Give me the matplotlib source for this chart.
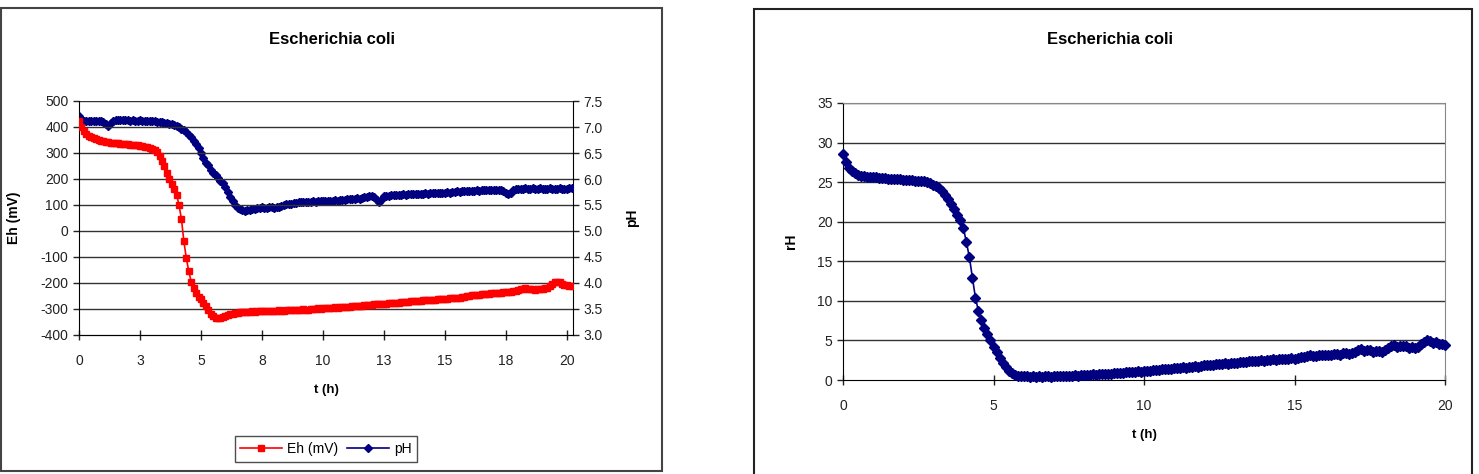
import numpy as np
import matplotlib
matplotlib.use("Agg")
import matplotlib.pyplot as plt
from matplotlib.patches import Rectangle

plt.rcParams['font.family'] = ['Liberation Sans', 'DejaVu Sans']
plt.rcParams['axes.unicode_minus'] = False

# time axis, one reading every 0.1 h
t_left = np.round(np.arange(0, 20.21, 0.1), 1)
t_right = np.round(np.arange(0, 20.01, 0.1), 1)

# Eh (mV), left chart
eh = [425, 400, 385, 372, 365, 360, 356, 352, 349, 347,
      345, 343, 342, 340, 339, 338, 337, 336, 335, 334,
      333, 332, 331, 330, 329, 327, 326, 324, 322, 320,
      317, 312, 303, 290, 270, 250, 225, 200, 180, 160,
      140, 100, 45, -40, -105, -155, -195, -220, -240, -252,
      -263, -275, -290, -305, -318, -328, -333, -335, -333, -330,
      -325, -322, -320, -318, -317, -315, -313, -312, -311, -311,
      -310, -309, -310, -308, -307, -309, -308, -307, -306, -308,
      -307, -306, -305, -307, -306, -305, -304, -305, -304, -303,
      -302, -302, -301, -303, -302, -300, -299, -300, -298, -299,
      -297, -297, -296, -297, -295, -294, -295, -293, -292, -293,
      -291, -291, -290, -289, -288, -288, -287, -286, -285, -284,
      -283, -282, -281, -281, -280, -279, -279, -278, -277, -277,
      -276, -275, -274, -274, -273, -272, -271, -271, -270, -269,
      -268, -267, -266, -266, -265, -264, -264, -263, -262, -262,
      -261, -260, -259, -259, -258, -257, -256, -254, -252, -250,
      -249, -248, -247, -246, -245, -244, -243, -242, -241, -240,
      -239, -238, -238, -237, -236, -236, -235, -234, -232, -230,
      -227, -222, -223, -221, -224, -222, -223, -225, -224, -222,
      -223, -221, -218, -212, -205, -198, -196, -198, -203, -207,
      -209, -211, -212]

# pH, left chart (right axis)
ph = [7.22, 7.15, 7.12, 7.12, 7.11, 7.12, 7.11, 7.11, 7.12, 7.11,
      7.10, 7.06, 7.02, 7.08, 7.12, 7.14, 7.14, 7.13, 7.14, 7.13,
      7.13, 7.12, 7.13, 7.12, 7.12, 7.13, 7.12, 7.12, 7.11, 7.12,
      7.11, 7.11, 7.10, 7.10, 7.09, 7.08, 7.07, 7.06, 7.05, 7.04,
      7.02, 7.00, 6.97, 6.94, 6.90, 6.85, 6.80, 6.74, 6.67, 6.59,
      6.50, 6.40, 6.31, 6.26, 6.18, 6.12, 6.08, 6.02, 5.96, 5.92,
      5.85, 5.75, 5.65, 5.57, 5.50, 5.45, 5.42, 5.40, 5.39, 5.40,
      5.41, 5.42, 5.43, 5.44, 5.45, 5.46, 5.44, 5.45, 5.46, 5.46,
      5.45, 5.46, 5.47, 5.48, 5.50, 5.51, 5.52, 5.52, 5.53, 5.54,
      5.55, 5.55, 5.56, 5.56, 5.55, 5.56, 5.57, 5.56, 5.57, 5.57,
      5.58, 5.57, 5.58, 5.58, 5.57, 5.59, 5.58, 5.59, 5.60, 5.60,
      5.61, 5.61, 5.62, 5.62, 5.63, 5.62, 5.64, 5.65, 5.66, 5.67,
      5.68, 5.65, 5.60, 5.55, 5.60, 5.67, 5.68, 5.68, 5.69, 5.69,
      5.70, 5.70, 5.70, 5.71, 5.70, 5.71, 5.71, 5.72, 5.71, 5.72,
      5.72, 5.72, 5.73, 5.72, 5.73, 5.73, 5.74, 5.73, 5.74, 5.74,
      5.74, 5.75, 5.74, 5.75, 5.75, 5.76, 5.75, 5.76, 5.76, 5.76,
      5.77, 5.77, 5.77, 5.78, 5.77, 5.78, 5.78, 5.79, 5.78, 5.79,
      5.79, 5.79, 5.79, 5.78, 5.76, 5.73, 5.72, 5.74, 5.78, 5.80,
      5.81, 5.81, 5.81, 5.82, 5.81, 5.81, 5.82, 5.81, 5.81, 5.82,
      5.81, 5.81, 5.81, 5.82, 5.81, 5.81, 5.81, 5.82, 5.81, 5.81,
      5.81, 5.82, 5.83]

# rH, right chart
rh = [28.6, 27.6, 26.8, 26.4, 26.1, 25.9, 25.8, 25.75, 25.7, 25.65,
      25.6, 25.6, 25.55, 25.5, 25.5, 25.45, 25.45, 25.4, 25.4, 25.35,
      25.3, 25.3, 25.3, 25.25, 25.2, 25.2, 25.15, 25.1, 25.0, 24.9,
      24.7, 24.5, 24.2, 23.9, 23.4, 22.9, 22.3, 21.6, 20.9, 20.2,
      19.2, 17.4, 15.5, 12.9, 10.4, 8.7, 7.6, 6.6, 5.8, 5.0,
      4.2, 3.5, 2.8, 2.2, 1.6, 1.2, 0.85, 0.65, 0.55, 0.5,
      0.45, 0.45, 0.4, 0.45, 0.4, 0.45, 0.4, 0.45, 0.45, 0.4,
      0.45, 0.45, 0.5, 0.5, 0.55, 0.5, 0.55, 0.6, 0.55, 0.6,
      0.6, 0.65, 0.6, 0.7, 0.65, 0.7, 0.75, 0.7, 0.8, 0.75,
      0.85, 0.85, 0.9, 0.85, 0.95, 1.0, 0.95, 1.05, 1.1, 1.05,
      1.15, 1.2, 1.15, 1.25, 1.3, 1.25, 1.35, 1.4, 1.35, 1.45,
      1.5, 1.5, 1.55, 1.6, 1.55, 1.65, 1.7, 1.75, 1.7, 1.8,
      1.85, 1.9, 1.85, 1.95, 2.0, 2.0, 2.05, 2.1, 2.05, 2.15,
      2.2, 2.2, 2.25, 2.3, 2.25, 2.35, 2.4, 2.35, 2.45, 2.5,
      2.45, 2.5, 2.55, 2.6, 2.55, 2.65, 2.7, 2.6, 2.7, 2.75,
      2.7, 2.8, 2.85, 2.9, 3.0, 3.1, 3.05, 3.0, 3.1, 3.15,
      3.1, 3.2, 3.15, 3.25, 3.3, 3.2, 3.35, 3.4, 3.3, 3.45,
      3.5, 3.8, 3.9, 3.7, 3.8, 3.75, 3.6, 3.65, 3.7, 3.6,
      3.75, 4.0, 4.3, 4.4, 4.2, 4.35, 4.25, 4.3, 4.1, 4.2,
      4.05, 4.2, 4.5, 4.8, 5.1, 4.9, 4.7, 4.85, 4.6, 4.5,
      4.4]

left_xticks = [0, 2.5, 5, 7.5, 10, 12.5, 15, 17.5, 20]
left_xlabels = ['0', '3', '5', '8', '10', '13', '15', '18', '20']
eh_ticks = list(range(-400, 501, 100))
ph_ticks = [3.0, 3.5, 4.0, 4.5, 5.0, 5.5, 6.0, 6.5, 7.0, 7.5]
rh_ticks = list(range(0, 36, 5))
right_xticks = [0, 5, 10, 15, 20]

title = 'Escherichia coli'
RED = '#ff0000'
NAVY = '#000080'

W, H = 1479, 474
fig = plt.figure(figsize=(W / 100, H / 100), dpi=100)

# chart frames
fig.patches.append(Rectangle((1 / W, 1 - 471 / H), 661 / W, 463 / H, transform=fig.transFigure,
                             fill=False, edgecolor='#444444', linewidth=1.5))
fig.patches.append(Rectangle((754 / W, -0.05), 718 / W, 1.05 - 9 / H, transform=fig.transFigure,
                             fill=False, edgecolor='#222222', linewidth=1.5))

# ---- left chart: Eh and pH ----
ax1 = fig.add_axes([79 / W, 1 - 335 / H, (573 - 79) / W, (335 - 101) / H])
ax2 = ax1.twinx()
for y in eh_ticks[1:]:
    ax1.axhline(y, color='#333333', lw=1.0, zorder=0)
ax1.plot(t_left, eh, color=RED, lw=1.2, marker='s', markersize=4.6, label='Eh (mV)', zorder=3)
ax2.plot(t_left, ph, color=NAVY, lw=1.2, marker='D', markersize=4.4, label='pH', zorder=3)
ax1.set_xlim(0, 20.25)
ax1.set_ylim(-400, 500)
ax2.set_ylim(3.0, 7.5)
ax1.set_yticks(eh_ticks)
ax2.set_yticks(ph_ticks)
ax2.set_yticklabels(['%.1f' % v for v in ph_ticks])
ax1.set_xticks(left_xticks)
ax1.set_xticklabels(left_xlabels)
for a in (ax1, ax2):
    a.spines['top'].set_visible(False)
    a.tick_params(labelsize=10, length=4, width=1, colors='#222222')
ax1.spines['right'].set_visible(False)
ax2.spines['left'].set_visible(False)
ax1.tick_params(axis='x', direction='inout', length=7, pad=10)
ax1.set_xlabel('t (h)', fontsize=9.5, fontweight='bold', labelpad=12)
ax1.set_ylabel('Eh (mV)', fontsize=10, fontweight='bold', labelpad=14)
ax2.set_ylabel('pH', fontsize=10, fontweight='bold', labelpad=16)
ax1.set_zorder(ax2.get_zorder() + 1)
ax1.patch.set_visible(False)
fig.text(332 / W, 1 - 40 / H, title, ha='center', va='center', fontsize=12, fontweight='bold')

h1, l1 = ax1.get_legend_handles_labels()
h2, l2 = ax2.get_legend_handles_labels()
fig.legend(h1 + h2, l1 + l2, loc='center', bbox_to_anchor=(326 / W, 1 - 449 / H), ncol=2,
           fontsize=10, frameon=True, fancybox=False, edgecolor='#222222',
           handlelength=3, columnspacing=0.6, handletextpad=0.4, borderpad=0.4)

# ---- right chart: rH ----
ax3 = fig.add_axes([843 / W, 1 - 380 / H, (1445 - 843) / W, (380 - 103) / H])
for y in rh_ticks[1:]:
    ax3.axhline(y, color='#333333', lw=1.0, zorder=0)
ax3.plot(t_right, rh, color=NAVY, lw=1.2, marker='D', markersize=5.2, clip_on=False, zorder=3)
ax3.set_xlim(0, 20)
ax3.set_ylim(0, 35)
ax3.set_yticks(rh_ticks)
ax3.set_xticks(right_xticks)
ax3.spines['top'].set_color('#888888')
ax3.spines['right'].set_color('#888888')
ax3.tick_params(labelsize=10, length=4, width=1, colors='#222222')
ax3.tick_params(axis='x', direction='inout', length=7, pad=10)
ax3.set_xlabel('t (h)', fontsize=9.5, fontweight='bold', labelpad=12)
ax3.set_ylabel('rH', fontsize=10, fontweight='bold', labelpad=14)
fig.text(1110 / W, 1 - 40 / H, title, ha='center', va='center', fontsize=12, fontweight='bold')

fig.savefig('out.png', dpi=100)
